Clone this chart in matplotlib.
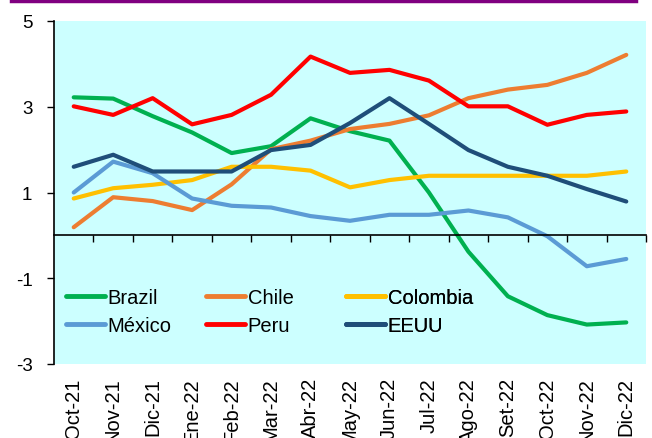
import matplotlib
matplotlib.use("Agg")
import matplotlib.pyplot as plt
from matplotlib.lines import Line2D

plt.rcParams['font.family'] = ['Liberation Sans', 'DejaVu Sans']

months = ["Oct-21", "Nov-21", "Dic-21", "Ene-22", "Feb-22", "Mar-22", "Abr-22",
          "May-22", "Jun-22", "Jul-22", "Ago-22", "Set-22", "Oct-22", "Nov-22", "Dic-22"]
brazil = [3.22, 3.19, 2.78, 2.40, 1.92, 2.08, 2.73, 2.43, 2.21, 1.00, -0.38, -1.42, -1.86, -2.08, -2.03]
chile = [0.19, 0.89, 0.80, 0.59, 1.19, 2.01, 2.21, 2.48, 2.60, 2.80, 3.20, 3.40, 3.51, 3.79, 4.21]
colombia = [0.86, 1.10, 1.18, 1.29, 1.60, 1.60, 1.51, 1.12, 1.29, 1.39, 1.39, 1.39, 1.39, 1.39, 1.49]
mexico = [1.00, 1.72, 1.45, 0.86, 0.69, 0.65, 0.45, 0.34, 0.48, 0.48, 0.58, 0.42, -0.02, -0.72, -0.55]
peru = [3.01, 2.81, 3.20, 2.59, 2.81, 3.28, 4.17, 3.79, 3.86, 3.61, 3.01, 3.01, 2.58, 2.81, 2.89]
eeuu = [1.60, 1.88, 1.49, 1.49, 1.49, 1.99, 2.11, 2.62, 3.20, 2.60, 1.99, 1.60, 1.39, 1.08, 0.79]
yticks = [-3, -1, 1, 3, 5]

series = [("Brazil", brazil, "#00B050"),
          ("Chile", chile, "#ED7D31"),
          ("Colombia", colombia, "#FFC000"),
          ("México", mexico, "#5B9BD5"),
          ("Peru", peru, "#FF0000"),
          ("EEUU", eeuu, "#1F4E79")]

W, H = 652, 439
fig = plt.figure(figsize=(W/100, H/100), dpi=100)
ax = fig.add_axes([54/W, 1-365/H, (646-54)/W, (365-22)/H])
ax.set_facecolor("#CCFFFF")

x = list(range(len(months)))
handles = {}
for name, vals, col in series:
    ax.plot(x, vals, color=col, lw=3.0, solid_capstyle='round', solid_joinstyle='round')
    handles[name] = Line2D([], [], color=col, lw=3.5, solid_capstyle='round')

ax.set_xlim(-0.5, len(months) - 0.5)
ax.set_ylim(-3, 5)
ax.set_yticks(yticks)
ax.set_yticklabels([str(v) for v in yticks], fontsize=13.5)
ax.tick_params(axis='y', direction='out', length=5, width=1, pad=10.5, color='black')

ax.spines['top'].set_visible(False)
ax.spines['right'].set_visible(False)
ax.spines['bottom'].set_position(('data', 0))
ax.spines['left'].set_linewidth(1.2)
ax.spines['bottom'].set_linewidth(1.2)
ax.set_xticks([i + 0.5 for i in x])
ax.set_xticklabels([])
ax.tick_params(axis='x', direction='out', length=5, width=1)

ax2 = ax.twiny()
ax2.set_xlim(ax.get_xlim())
ax2.xaxis.tick_bottom()
ax2.set_xticks(x)
ax2.set_xticklabels(months, rotation=90, fontsize=14.5, va='top', ha='center')
ax2.tick_params(axis='x', length=0, pad=9.5)
for s in ax2.spines.values():
    s.set_visible(False)

# three legend columns, each positioned at the reference's column start
columns = [["Brazil", "México"], ["Chile", "Peru"], ["Colombia", "EEUU"]]
col_x = [66, 206, 346]
for names, cx in zip(columns, col_x):
    leg = ax.legend([handles[n] for n in names], names, frameon=False,
                    loc='center left', bbox_to_anchor=(cx/W, 1-312.5/H),
                    bbox_transform=fig.transFigure, fontsize=14.5,
                    handlelength=1.95, handletextpad=0.12, borderpad=0,
                    borderaxespad=0, labelspacing=0.45)
    ax.add_artist(leg)

fig.add_artist(Line2D([12/W, 636/W], [1-2.2/H, 1-2.2/H], color="#800080",
                      lw=3.2, transform=fig.transFigure))

fig.savefig("out.png", dpi=100)
